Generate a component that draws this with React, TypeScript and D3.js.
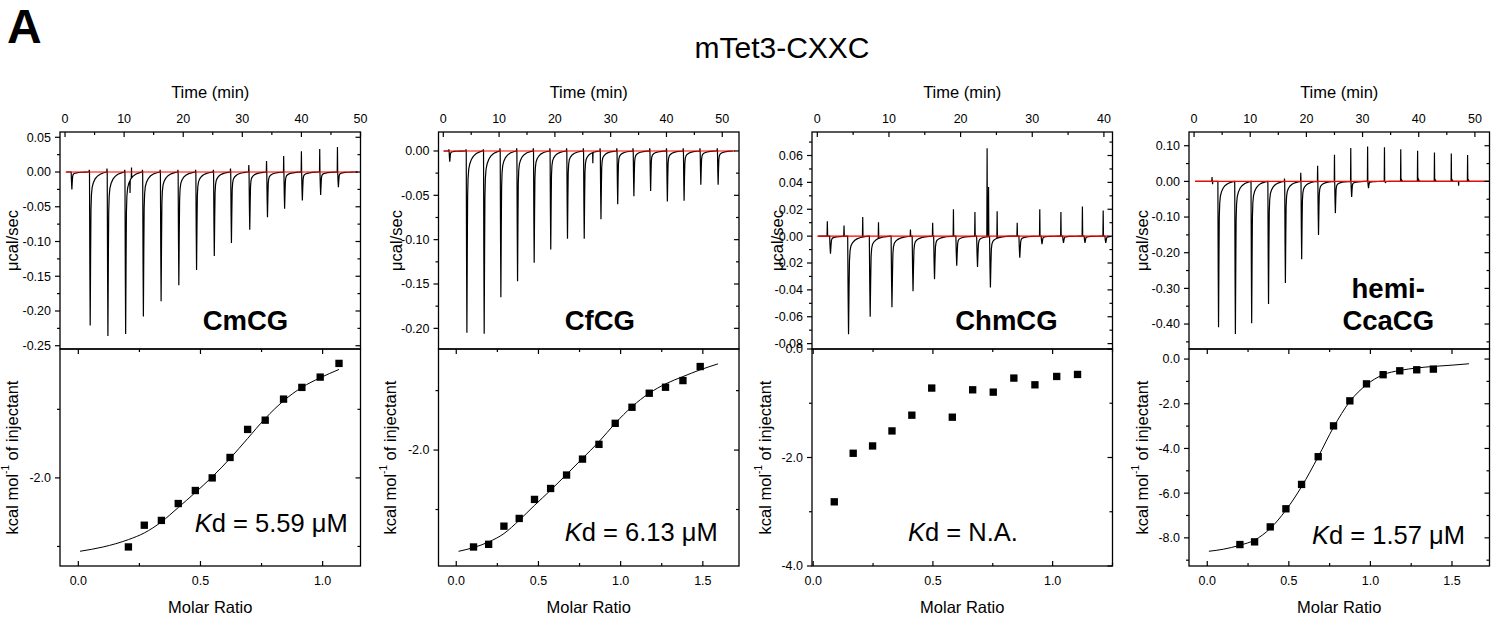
import React, { useEffect, useRef } from 'react';
import * as d3 from 'd3';

// ---- raw thermograms: injection times (min), peak minimum and pre-spike maximum (µcal/sec)
const injT1 = [1.0, 4.1, 7.1, 10.1, 13.1, 16.1, 19.1, 22.1, 25.1, 28.0, 31.1, 34.1, 37.0, 40.0, 43.1, 46.1];
const injMin1 = [-0.025, -0.221, -0.236, -0.233, -0.208, -0.186, -0.163, -0.141, -0.121, -0.102, -0.083, -0.065, -0.053, -0.041, -0.033, -0.022];
const injMax1 = [0, 0.003, 0.005, 0.003, 0.003, 0.003, 0.003, 0.003, 0.003, 0.005, 0.01, 0.016, 0.023, 0.03, 0.033, 0.036];
const spikeT1 = [11.0, 11.25];
const spikeV1 = [-0.018, 0.015];

const injT2 = [1.0, 4.07, 7.17, 10.16, 13.15, 16.13, 19.1, 22.1, 25.1, 28.1, 31.1, 34.0, 37.0, 40.0, 43.0, 46.0, 49.1];
const injMin2 = [-0.012, -0.205, -0.206, -0.165, -0.147, -0.126, -0.111, -0.099, -0.099, -0.077, -0.06, -0.051, -0.045, -0.057, -0.056, -0.038, -0.038];
const injMax2 = [0.002, 0.002, 0.002, 0.003, 0.003, 0.003, 0.003, 0.003, 0.003, 0.003, 0.003, 0.003, 0.003, 0.003, 0.003, 0.003, 0.003];
const spikeT2 = [26.8];
const spikeV2 = [-0.012];

const injT3 = [1.68, 4.2, 7.22, 10.26, 13.2, 16.2, 19.3, 22.2, 24.0, 28.1, 31.2, 34.2, 37.2, 40.1];
const injMin3 = [-0.013, -0.073, -0.06, -0.053, -0.041, -0.032, -0.022, -0.023, -0.038, -0.016, -0.006, -0.005, -0.005, -0.005];
const injMax3 = [0, 0, 0, 0, 0, 0, 0, 0, 0, 0, 0, 0, 0, 0];
const spikeT3 = [1.4, 3.73, 6.34, 8.54, 13.0, 16.1, 19.0, 22.0, 23.7, 23.9, 25.1, 27.9, 31.05, 34.0, 37.0, 39.9];
const spikeV3 = [0.011, 0.008, 0.015, 0.012, 0.005, 0.01, 0.02, 0.018, 0.066, 0.037, 0.02, 0.01, 0.02, 0.018, 0.022, 0.019];

const injT4 = [4.2, 7.2, 10.1, 13.1, 16.1, 19.0, 22.0, 25.0, 27.9, 30.9, 33.9, 36.8, 39.8, 42.8, 45.8, 48.7];
const injMin4 = [-0.409, -0.428, -0.398, -0.344, -0.285, -0.218, -0.15, -0.089, -0.044, -0.019, -0.003, 0.004, 0.006, 0.004, 0.004, 0.004];
const injMax4 = [0, 0, 0, 0, 0.008, 0.024, 0.044, 0.075, 0.094, 0.098, 0.096, 0.09, 0.086, 0.081, 0.078, 0.074];
const spikeT4 = [3.2, 3.3, 47.1];
const spikeV4 = [0.012, -0.008, -0.012];

// shape of one injection peak (min after injection, fraction of depth)
const shapeDt = [0, 0.06, 0.12, 0.19, 0.25, 0.33, 0.45, 0.65, 0.95, 1.3, 1.8, 2.4, 2.9];
const shapeFrac = [0, 0.6, 1, 0.55, 0.25, 0.15, 0.1, 0.07, 0.045, 0.028, 0.014, 0.005, 0];
const spikeDt = [-0.04, 0, 0.04];
const spikeFrac = [0, 1, 0];

// ---- integrated heats (molar ratio, kcal/mol)
const ratio1 = [0.205, 0.27, 0.34, 0.409, 0.479, 0.548, 0.621, 0.693, 0.765, 0.84, 0.915, 0.99, 1.067];
const heat1 = [-3.007, -2.69, -2.62, -2.374, -2.184, -2.0, -1.702, -1.293, -1.158, -0.851, -0.68, -0.53, -0.33];
const fitX1 = [0.007, 0.102, 0.205, 0.27, 0.34, 0.409, 0.479, 0.548, 0.621, 0.693, 0.765, 0.84, 0.915, 0.99, 1.067];
const fitY1 = [-3.07, -3.007, -2.9, -2.803, -2.642, -2.432, -2.213, -1.985, -1.717, -1.425, -1.133, -0.876, -0.68, -0.54, -0.418];

const ratio2 = [0.105, 0.197, 0.29, 0.383, 0.476, 0.574, 0.671, 0.768, 0.868, 0.967, 1.069, 1.174, 1.273, 1.379, 1.484];
const heat2 = [-3.63, -3.585, -3.28, -3.15, -2.83, -2.646, -2.42, -2.152, -1.904, -1.55, -1.28, -1.044, -0.943, -0.831, -0.595];
const fitX2 = [0.014, 0.105, 0.197, 0.29, 0.383, 0.476, 0.574, 0.671, 0.768, 0.868, 0.967, 1.069, 1.174, 1.273, 1.379, 1.484, 1.592];
const fitY2 = [-3.703, -3.64, -3.546, -3.405, -3.18, -2.93, -2.675, -2.41, -2.14, -1.86, -1.55, -1.27, -1.044, -0.887, -0.764, -0.65, -0.55];

const ratio3 = [0.088, 0.167, 0.248, 0.329, 0.412, 0.495, 0.581, 0.666, 0.752, 0.838, 0.926, 1.017, 1.104];
const heat3 = [-2.817, -1.922, -1.787, -1.51, -1.22, -0.72, -1.257, -0.752, -0.795, -0.536, -0.66, -0.506, -0.469];
const fitX3: number[] = [];
const fitY3: number[] = [];

const ratio4 = [0.2, 0.29, 0.386, 0.482, 0.578, 0.68, 0.774, 0.874, 0.976, 1.078, 1.18, 1.284, 1.386];
const heat4 = [-8.3, -8.18, -7.51, -6.7, -5.61, -4.37, -2.99, -1.87, -1.11, -0.7, -0.525, -0.48, -0.45];
const fitX4 = [0.01, 0.098, 0.2, 0.29, 0.386, 0.482, 0.578, 0.68, 0.774, 0.874, 0.976, 1.078, 1.18, 1.284, 1.386, 1.506, 1.604];
const fitY4 = [-8.6, -8.51, -8.33, -8.1, -7.58, -6.76, -5.71, -4.37, -3.05, -1.9, -1.15, -0.7, -0.51, -0.4, -0.33, -0.27, -0.21];

const sampleNames = [['CmCG'], ['CfCG'], ['ChmCG'], ['hemi-', 'CcaCG']];
const kdTexts = ['= 5.59 μM', '= 6.13 μM', '= N.A.', '= 1.57 μM'];

// axis ranges and ticks
const timeDomains = [[-0.85, 50], [-0.86, 53], [-0.74, 41.2], [-0.9, 52.6]];
const powerDomains = [[-0.2547, 0.0576], [-0.2233, 0.0214], [-0.084, 0.0775], [-0.47, 0.1385]];
const powerStep = [0.05, 0.05, 0.02, 0.1];
const ratioDomains = [[-0.075, 1.155], [-0.108, 1.72], [-0.005, 1.25], [-0.112, 1.73]];
const heatDomains = [[-3.285, -0.12], [-3.95, -0.3], [-4, 0], [-9.26, 0.45]];
const traceRange = [[0.2, 49.5], [0.1, 52], [0.14, 41], [0.2, 52.5]];
const baseRange = [[0.1, 49.5], [0, 52.3], [0, 40.6], [0.2, 52.6]];

const FONT = "'Liberation Sans', Arial, Helvetica, sans-serif";
const panelLeft = [60, 438.5, 812, 1189];
const panelW = 300.5;
const yTop = 132, yMid = 349, yBot = 566;
const nameFrac = [0.617, 0.537, 0.647, 0.663];
const yTitleOffTop = [48, 42, 35, 47];
const yTitleOffBot = [48, 48, 47, 47];
const kdPos = [[347.7, 531.7, 'end'], [717.7, 541, 'end'], [963, 541, 'middle'], [1465, 544, 'end']];

function tickValues(domain: number[], step: number) {
  const lo = Math.min(domain[0], domain[1]);
  const hi = Math.max(domain[0], domain[1]);
  const a = Math.ceil(lo / step - 1e-6);
  const b = Math.floor(hi / step + 1e-6);
  return d3.range(a, b + 1).map((k) => +(k * step).toFixed(6));
}

function fmt(v: number, d: number) {
  return Math.abs(v) < 1e-9 ? (0).toFixed(d) : v.toFixed(d);
}

function App() {
  const svgRef = useRef<SVGSVGElement>(null);

  useEffect(() => {
    if (!svgRef.current) return;
    const svg = d3.select(svgRef.current);
    svg.selectAll('*').remove();

    const panels = [
      { injT: injT1, injMin: injMin1, injMax: injMax1, spT: spikeT1, spV: spikeV1, rx: ratio1, hy: heat1, fx: fitX1, fy: fitY1 },
      { injT: injT2, injMin: injMin2, injMax: injMax2, spT: spikeT2, spV: spikeV2, rx: ratio2, hy: heat2, fx: fitX2, fy: fitY2 },
      { injT: injT3, injMin: injMin3, injMax: injMax3, spT: spikeT3, spV: spikeV3, rx: ratio3, hy: heat3, fx: fitX3, fy: fitY3 },
      { injT: injT4, injMin: injMin4, injMax: injMax4, spT: spikeT4, spV: spikeV4, rx: ratio4, hy: heat4, fx: fitX4, fy: fitY4 },
    ];

    const shape = d3.scaleLinear().domain(shapeDt).range(shapeFrac).clamp(true);
    const spike = d3.scaleLinear().domain(spikeDt).range(spikeFrac).clamp(true);
    const defs = svg.append('defs');

    // headings
    svg.append('text').attr('x', 7).attr('y', 43).attr('font-family', FONT)
      .attr('font-weight', 'bold').attr('font-size', 48).text('A');
    svg.append('text').attr('x', 782).attr('y', 58).attr('text-anchor', 'middle')
      .attr('font-family', FONT).attr('font-size', 30).text('mTet3-CXXC');

    panels.forEach((pd, p) => {
      const x0 = panelLeft[p];
      const x1 = x0 + panelW;
      const g = svg.append('g').attr('font-family', FONT);

      const tx = d3.scaleLinear().domain(timeDomains[p]).range([x0, x1]);
      const ty = d3.scaleLinear().domain(powerDomains[p]).range([yMid, yTop]);
      const rxs = d3.scaleLinear().domain(ratioDomains[p]).range([x0, x1]);
      const rys = d3.scaleLinear().domain(heatDomains[p]).range([yBot, yMid]);

      defs.append('clipPath').attr('id', `clipT${p}`).append('rect')
        .attr('x', x0).attr('y', yTop).attr('width', panelW).attr('height', yMid - yTop);

      // ---- raw trace
      const value = (t: number) => {
        let v = 0;
        pd.injT.forEach((ti, i) => {
          v += pd.injMin[i] * shape(t - ti - 0.04) + pd.injMax[i] * spike(t - ti);
        });
        pd.spT.forEach((ts, j) => { v += pd.spV[j] * spike(t - ts); });
        return v;
      };
      const [ta, tb] = traceRange[p];
      let times: number[] = [ta, tb];
      pd.injT.forEach((ti) => {
        shapeDt.forEach((d) => times.push(ti + 0.04 + d));
        spikeDt.forEach((d) => times.push(ti + d));
      });
      pd.spT.forEach((ts) => spikeDt.forEach((d) => times.push(ts + d)));
      times = Array.from(new Set(times.filter((t) => t >= ta && t <= tb).map((t) => +t.toFixed(4))))
        .sort((a, b) => a - b);

      const trace = d3.line<number>().x((t) => tx(t)).y((t) => ty(value(t)));
      g.append('path').attr('d', trace(times)).attr('fill', 'none').attr('stroke', '#000')
        .attr('stroke-width', 1.2).attr('clip-path', `url(#clipT${p})`);
      g.append('line').attr('x1', tx(baseRange[p][0])).attr('x2', tx(baseRange[p][1]))
        .attr('y1', ty(0)).attr('y2', ty(0)).attr('stroke', '#ff0000').attr('stroke-width', 1.2);

      // ---- integrated heats
      if (pd.fx.length) {
        const fit = d3.line<number>().x((d) => rxs(pd.fx[d])).y((d) => rys(pd.fy[d])).curve(d3.curveMonotoneX);
        g.append('path').attr('d', fit(d3.range(pd.fx.length))).attr('fill', 'none')
          .attr('stroke', '#000').attr('stroke-width', 1);
      }
      const sq = d3.symbol().type(d3.symbolSquare).size(54);
      g.selectAll('path.pt').data(pd.rx).enter().append('path').attr('class', 'pt')
        .attr('d', sq as any)
        .attr('transform', (d, i) => `translate(${rxs(d)},${rys(pd.hy[i])})`)
        .attr('fill', '#000');

      // ---- frames
      g.append('rect').attr('x', x0).attr('y', yTop).attr('width', panelW).attr('height', yMid - yTop)
        .attr('fill', 'none').attr('stroke', '#000').attr('stroke-width', 1.3);
      g.append('rect').attr('x', x0).attr('y', yMid).attr('width', panelW).attr('height', yBot - yMid)
        .attr('fill', 'none').attr('stroke', '#000').attr('stroke-width', 1.3);

      const tick = (xa: number, ya: number, xb: number, yb: number) =>
        g.append('line').attr('x1', xa).attr('y1', ya).attr('x2', xb).attr('y2', yb)
          .attr('stroke', '#000').attr('stroke-width', 1.2);

      // time axis (top)
      const tMaj = tickValues(timeDomains[p], 10);
      tickValues(timeDomains[p], 5).forEach((t) => {
        const major = tMaj.includes(t);
        tick(tx(t), yTop, tx(t), yTop + (major ? 5 : 3));
      });
      tMaj.forEach((t) => {
        g.append('text').attr('x', tx(t)).attr('y', yTop - 9).attr('text-anchor', 'middle')
          .attr('font-size', 12.5).text(fmt(t, 0));
      });
      g.append('text').attr('x', (x0 + x1) / 2).attr('y', 98).attr('text-anchor', 'middle')
        .attr('font-size', 16.5).text('Time (min)');

      // power axis
      const pMaj = tickValues(powerDomains[p], powerStep[p]);
      tickValues(powerDomains[p], powerStep[p] / 2).forEach((v) => {
        const major = pMaj.includes(v);
        const len = major ? 5 : 3;
        tick(x0 - len, ty(v), x0, ty(v));
        tick(x1 - len, ty(v), x1, ty(v));
      });
      pMaj.forEach((v) => {
        g.append('text').attr('x', x0 - 9).attr('y', ty(v)).attr('dy', '0.35em')
          .attr('text-anchor', 'end').attr('font-size', 12.5).text(fmt(v, 2));
      });
      const cyT = (yTop + yMid) / 2;
      g.append('text').attr('transform', `translate(${x0 - yTitleOffTop[p]},${cyT}) rotate(-90)`)
        .attr('dy', '0.35em').attr('text-anchor', 'middle').attr('font-size', 16.5).text('μcal/sec');

      // molar ratio axis
      const rMaj = tickValues(ratioDomains[p], 0.5);
      tickValues(ratioDomains[p], 0.25).forEach((v) => {
        const len = rMaj.includes(v) ? 5 : 3;
        tick(rxs(v), yMid, rxs(v), yMid + len);
        tick(rxs(v), yBot, rxs(v), yBot - len);
      });
      rMaj.forEach((v) => {
        g.append('text').attr('x', rxs(v)).attr('y', yBot + 19).attr('text-anchor', 'middle')
          .attr('font-size', 12.5).text(fmt(v, 1));
      });
      g.append('text').attr('x', (x0 + x1) / 2).attr('y', 613).attr('text-anchor', 'middle')
        .attr('font-size', 16.5).text('Molar Ratio');

      // heat axis
      const hMaj = tickValues(heatDomains[p], 2);
      tickValues(heatDomains[p], 1).forEach((v) => {
        const len = hMaj.includes(v) ? 5 : 3;
        tick(x0 - len, rys(v), x0, rys(v));
        tick(x1 - len, rys(v), x1, rys(v));
      });
      hMaj.forEach((v) => {
        g.append('text').attr('x', x0 - 9).attr('y', rys(v)).attr('dy', '0.35em')
          .attr('text-anchor', 'end').attr('font-size', 12.5).text(fmt(v, 1));
      });
      const cyB = (yMid + yBot) / 2;
      const yl = g.append('text').attr('transform', `translate(${x0 - yTitleOffBot[p]},${cyB}) rotate(-90)`)
        .attr('dy', '0.35em').attr('text-anchor', 'middle').attr('font-size', 16.5);
      yl.append('tspan').text('kcal mol');
      yl.append('tspan').attr('font-size', 10).attr('dy', '-0.9em').text('-1');
      yl.append('tspan').attr('dy', '0.55em').text(' of injectant');

      // sample name
      const names = sampleNames[p];
      names.forEach((nm, i) => {
        g.append('text').attr('x', x0 + nameFrac[p] * panelW)
          .attr('y', 330 - (names.length - 1 - i) * 32)
          .attr('text-anchor', 'middle').attr('font-weight', 'bold').attr('font-size', 27.5).text(nm);
      });

      // Kd
      const [kx, ky, anchor] = kdPos[p];
      const kd = g.append('text').attr('x', kx as number).attr('y', ky as number)
        .attr('text-anchor', anchor as string).attr('font-size', 25.5);
      kd.append('tspan').attr('font-style', 'italic').text('K');
      kd.append('tspan').text('d ' + kdTexts[p]);
    });
  }, []);

  return (
    <div>
      <svg ref={svgRef} width={1502} height={623}
        style={{ position: 'absolute', left: 0, top: 0, background: '#fff' }} />
    </div>
  );
}

export default App;
